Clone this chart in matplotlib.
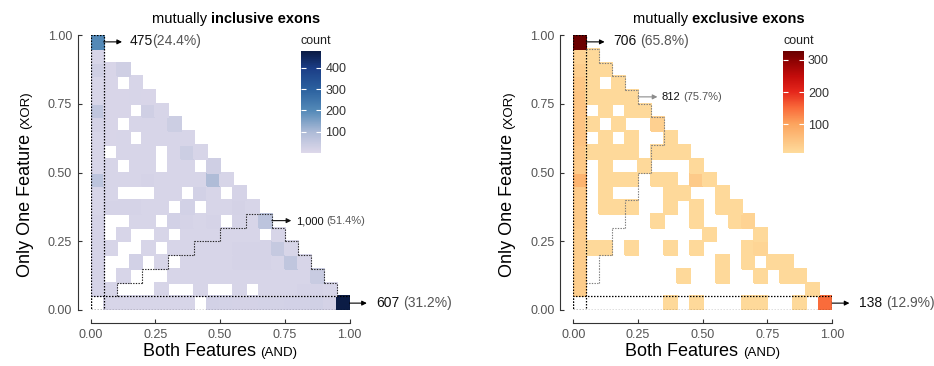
import numpy as np
import matplotlib
matplotlib.use("Agg")
import matplotlib.pyplot as plt
from matplotlib.colors import LinearSegmentedColormap, Normalize
from matplotlib.collections import LineCollection
from matplotlib.patches import Rectangle

plt.rcParams["font.family"] = ["Liberation Sans", "DejaVu Sans"]

# 20 x 20 bins on [0, 1] for both features
bin_edges = np.linspace(0, 1, 21)
n_bins = len(bin_edges) - 1

# exon counts per bin; each row is one XOR bin, top row = 0.95-1.00,
# entries run along AND from 0.00; 0 means no exons in that bin
inclusive_rows = [
    [200],
    [14, 0],
    [30, 12, 30],
    [14, 12, 0, 14],
    [14, 12, 12, 14, 12],
    [60, 12, 12, 0, 30, 14],
    [20, 12, 0, 14, 14, 14, 35],
    [14, 12, 14, 0, 14, 14, 14, 14],
    [14, 0, 14, 14, 14, 0, 14, 35, 14],
    [14, 14, 0, 14, 14, 0, 14, 14, 0, 30],
    [70, 14, 14, 14, 18, 14, 14, 14, 14, 95, 14],
    [14, 14, 0, 0, 0, 14, 14, 0, 25, 14, 0, 18],
    [14, 18, 18, 18, 14, 14, 0, 25, 0, 14, 14, 20, 14],
    [18, 0, 0, 14, 14, 0, 25, 18, 14, 18, 0, 18, 14, 70],
    [18, 0, 14, 0, 0, 14, 0, 14, 14, 14, 14, 14, 14, 0, 14],
    [18, 14, 0, 0, 14, 0, 14, 14, 14, 14, 14, 18, 18, 18, 50, 14],
    [18, 0, 0, 25, 0, 14, 0, 14, 14, 14, 14, 18, 18, 18, 14, 60, 14],
    [18, 0, 14, 0, 0, 0, 14, 14, 14, 14, 14, 14, 14, 14, 14, 14, 14, 45],
    [18, 14, 0, 0, 0, 14, 0, 0, 14, 0, 0, 14, 0, 14, 14, 14, 18, 18, 14],
    [0, 14, 14, 14, 14, 14, 14, 14, 0, 25, 22, 20, 20, 22, 22, 25, 25, 28, 20, 475],
]

exclusive_rows = [
    [325],
    [28, 15],
    [35, 15, 15],
    [45, 15, 0, 15],
    [50, 15, 15, 15, 15],
    [50, 0, 15, 0, 15, 15],
    [50, 15, 0, 15, 0, 0, 30],
    [50, 0, 15, 0, 15, 0, 0, 15],
    [45, 15, 15, 15, 15, 0, 15, 15, 15],
    [40, 0, 15, 0, 0, 15, 0, 0, 0, 15],
    [75, 0, 15, 15, 15, 0, 15, 15, 0, 40, 15],
    [40, 0, 15, 0, 0, 0, 0, 15, 15, 0, 0, 15],
    [40, 0, 15, 15, 15, 0, 0, 15, 0, 15, 0, 15, 15],
    [40, 0, 0, 0, 0, 0, 15, 0, 0, 15, 0, 0, 15, 25],
    [35, 0, 0, 0, 0, 0, 0, 0, 0, 0, 15, 0, 0, 0, 15],
    [35, 15, 15, 0, 15, 0, 0, 15, 0, 15, 0, 0, 0, 15, 22, 0],
    [35, 0, 0, 0, 0, 0, 0, 0, 0, 0, 0, 15, 0, 15, 0, 15, 15],
    [35, 0, 0, 0, 0, 0, 0, 0, 15, 0, 0, 15, 0, 0, 15, 0, 15, 15],
    [35, 0, 0, 0, 0, 0, 0, 0, 0, 0, 0, 0, 0, 0, 0, 0, 0, 0, 15],
    [0, 0, 0, 0, 0, 0, 0, 15, 0, 15, 0, 0, 0, 15, 15, 0, 0, 15, 0, 150],
]

panel_titles = [("mutually ", "inclusive exons"), ("mutually ", "exclusive exons")]
count_ranges = [(1, 480), (12, 328)]
count_ticks = [[100, 200, 300, 400], [100, 200, 300]]

# (count, share) for the AND = 0 column, the ratio region, the XOR = 0 row
inclusive_notes = [("475", "(24.4%)"), ("1,000", "(51.4%)"), ("607", "(31.2%)")]
exclusive_notes = [("706", "(65.8%)"), ("812", "(75.7%)"), ("138", "(12.9%)")]

blues = LinearSegmentedColormap.from_list(
    "incl", [(0.0, "#ddd8ea"), (0.2, "#aebbd7"), (0.41, "#548ab8"),
             (0.62, "#2b619f"), (0.83, "#1b3d86"), (1.0, "#0a1a42")])
reds = LinearSegmentedColormap.from_list(
    "excl", [(0.0, "#fedb9c"), (0.28, "#fca45e"), (0.44, "#f96a3a"),
             (0.6, "#e5261b"), (0.75, "#c30c0b"), (0.91, "#8b0202"), (1.0, "#680000")])


def to_grid(rows):
    grid = np.zeros((n_bins, n_bins))
    for r, row in enumerate(rows):
        grid[n_bins - 1 - r, :len(row)] = row
    return np.ma.masked_equal(grid, 0)


def region_segments(mask):
    """Cell borders of a boolean [xor, and] mask, minus the lines shared
    with the AND = 0 column box and the XOR = 0 row box."""
    segs = []
    e = bin_edges
    for b in range(n_bins):
        for c in range(n_bins):
            if not mask[b, c]:
                continue
            if b + 1 >= n_bins or not mask[b + 1, c]:
                segs.append([(e[c], e[b + 1]), (e[c + 1], e[b + 1])])
            if b == 0 or not mask[b - 1, c]:
                if b != 1:
                    segs.append([(e[c], e[b]), (e[c + 1], e[b])])
            if c == 0 or not mask[b, c - 1]:
                if c != 1:
                    segs.append([(e[c], e[b]), (e[c], e[b + 1])])
            if c + 1 >= n_bins or not mask[b, c + 1]:
                segs.append([(e[c + 1], e[b]), (e[c + 1], e[b + 1])])
    return segs


W_PX, H_PX = 934, 366
fig = plt.figure(figsize=(W_PX / 100, H_PX / 100), dpi=100)
renderer = fig.canvas.get_renderer()


def text_width(s, **kw):
    if s == " ":
        return text_width("x x", **kw) - text_width("xx", **kw)
    t = fig.text(0, 0, s, **kw)
    w = t.get_window_extent(renderer).width
    t.remove()
    return w


def put_runs(x, y, runs, align="left", rotation=0):
    """Draw styled pieces one after another on one baseline; x, y in pixels
    from the top-left corner of the figure."""
    widths = [text_width(s, **kw) for s, kw in runs]
    off = -sum(widths) / 2 if align == "center" else 0
    for (s, kw), w in zip(runs, widths):
        if s != " ":
            if rotation:
                px, py = x, H_PX - y + off
            else:
                px, py = x + off, H_PX - y
            fig.text(px / W_PX, py / H_PX, s, ha="left", va="baseline",
                     rotation=rotation, rotation_mode="anchor", **kw)
        off += w


ii, jj = np.meshgrid(np.arange(n_bins), np.arange(n_bins))  # jj = xor bin, ii = and bin
triangle = (ii + jj) <= n_bins - 1
inclusive_region = triangle & (jj >= 1) & (2 * jj <= ii)
exclusive_region = triangle & (ii >= 1) & (2 * ii <= jj)

panels = [
    dict(rows=inclusive_rows, cmap=blues, notes=inclusive_notes, region=inclusive_region,
         x0=90.7, cbar_x=300.7, region_color="#222222", region_arrow="#111111",
         region_cell=(14, 6)),
    dict(rows=exclusive_rows, cmap=reds, notes=exclusive_notes, region=exclusive_region,
         x0=573.3, cbar_x=783.3, region_color="#7a7a7a", region_arrow="#8c8c8c",
         region_cell=(5, 15)),
]

dot = (0, (1.2, 1.2))
centers = (bin_edges[:-1] + bin_edges[1:]) / 2

for k, p in enumerate(panels):
    ax_w, ax_h = 258.8, 275.0
    ax = fig.add_axes([p["x0"] / W_PX, (H_PX - 310) / H_PX, ax_w / W_PX, ax_h / H_PX])
    vmin, vmax = count_ranges[k]
    norm = Normalize(vmin=vmin, vmax=vmax)
    mesh = ax.pcolormesh(bin_edges, bin_edges, to_grid(p["rows"]), cmap=p["cmap"],
                         norm=norm, edgecolors="face", linewidth=0.1)

    # boxes round the AND = 0 column and the XOR = 0 row
    w = bin_edges[1]
    ax.add_patch(Rectangle((0, 0), w, 1, fill=False, ec="black", lw=0.9, ls=dot))
    ax.add_patch(Rectangle((0, 0), 1, w, fill=False, ec="black", lw=0.9, ls=dot))
    ax.add_collection(LineCollection(region_segments(p["region"]), colors=p["region_color"],
                                     linewidths=0.8, linestyles=[dot]))

    ax.set_xlim(0, 1)
    ax.set_ylim(0, 1)
    ticks = [0, 0.25, 0.5, 0.75, 1.0]
    ax.set_xticks(ticks)
    ax.set_yticks(ticks)
    ax.set_xticklabels([f"{t:.2f}" for t in ticks])
    ax.set_yticklabels([f"{t:.2f}" for t in ticks])
    for side in ("top", "right"):
        ax.spines[side].set_visible(False)
    for side in ("left", "bottom"):
        ax.spines[side].set_position(("outward", 9.5))
        ax.spines[side].set_bounds(0, 1)
        ax.spines[side].set_linewidth(0.8)
        ax.spines[side].set_color("#333333")
    ax.tick_params(direction="in", length=3, width=0.8, color="#333333",
                   labelsize=9, labelcolor="#555555", pad=4)
    ax.set_facecolor("none")

    arrow = dict(arrowstyle="-|>", color="black", lw=0.8, mutation_scale=7,
                 shrinkA=0, shrinkB=0)
    num = dict(fontsize=10, color="#111111")
    pct = dict(fontsize=10, color="#555555")
    small_num = dict(fontsize=8, color="#111111")
    small_pct = dict(fontsize=8, color="#555555")

    def note(x_start, x_end, x_text, y, runs, color="black"):
        ax.annotate("", xy=(x_end, y), xytext=(x_start, y),
                    arrowprops=dict(arrow, color=color), annotation_clip=False)
        px, py = ax.transData.transform((x_text, y))
        put_runs(px, H_PX - py + 3.5, runs)

    top_y = centers[-1]
    col_runs = [(p["notes"][0][0], num)]
    if k == 1:
        col_runs.append((" ", pct))
    col_runs.append((p["notes"][0][1], pct))
    note(bin_edges[1], 0.121, 0.149 if k == 0 else 0.153, top_y, col_runs)

    rc, rb = p["region_cell"]
    note(bin_edges[rc], bin_edges[rc] + 0.075, bin_edges[rc] + 0.092, centers[rb],
         [(p["notes"][1][0], small_num), (" ", small_pct), (p["notes"][1][1], small_pct)],
         color=p["region_arrow"])

    note(1.0, 1.067, 1.103, centers[0],
         [(p["notes"][2][0], num), (" ", pct), (p["notes"][2][1], pct)])

    # titles and axis titles
    title_x = p["x0"] + 145.5
    put_runs(title_x, 23, [(panel_titles[k][0], dict(fontsize=10.5)),
                           (panel_titles[k][1], dict(fontsize=10.5, weight="bold"))],
             align="center")
    put_runs(p["x0"] + ax_w / 2, 356,
             [("Both Features", dict(fontsize=13)), (" ", dict(fontsize=13)),
              ("(AND)", dict(fontsize=9.5))], align="center")
    put_runs(p["x0"] - 61.2, 184,
             [("Only One Feature", dict(fontsize=13)), (" ", dict(fontsize=13)),
              ("(XOR)", dict(fontsize=9.5))], align="center", rotation=90)

    # colour bar inside the panel
    cax = fig.add_axes([p["cbar_x"] / W_PX, (H_PX - 152.7) / H_PX, 20.5 / W_PX, 102 / H_PX])
    cb = fig.colorbar(mesh, cax=cax, ticks=count_ticks[k])
    cb.outline.set_visible(False)
    cax.tick_params(direction="in", length=3.5, width=0.8, color="white",
                    left=True, right=True, labelleft=False, labelright=True,
                    labelsize=9, labelcolor="#333333", pad=3)
    cax.text(0, 1.04, "count", transform=cax.transAxes, ha="left", va="bottom",
             fontsize=9, color="#222222")

fig.savefig("out.png", dpi=100)
